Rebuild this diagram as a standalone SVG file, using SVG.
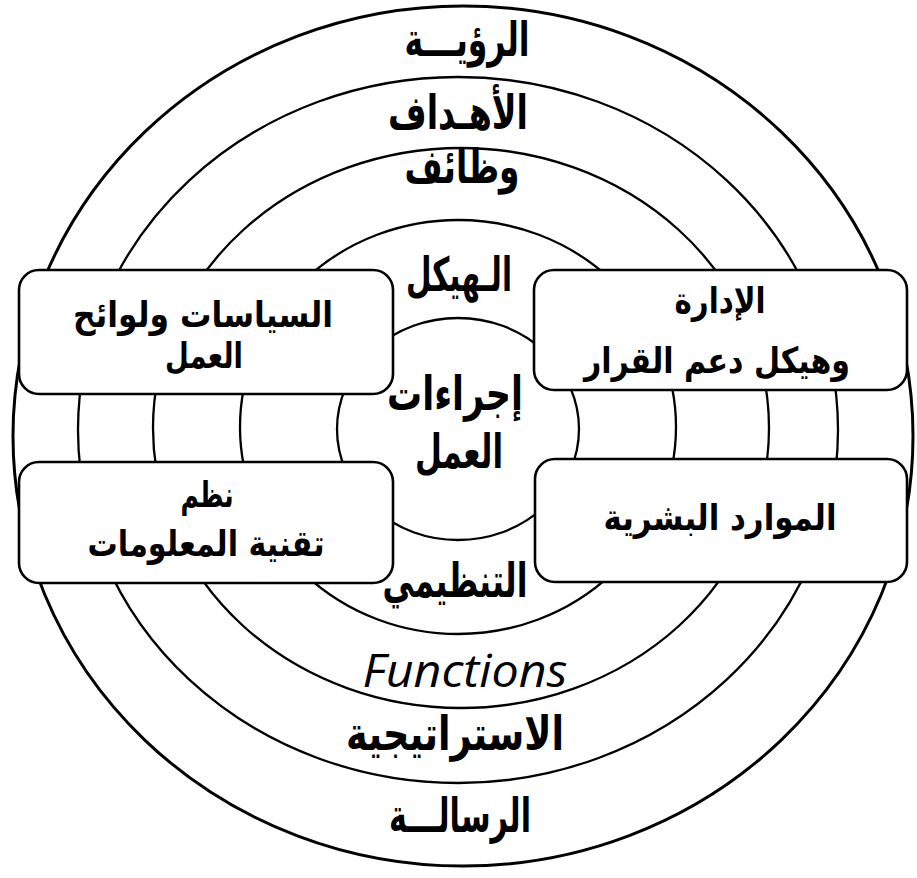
<svg xmlns="http://www.w3.org/2000/svg" width="917" height="878" viewBox="0 0 917 878">
<style>
.ring{fill:none;stroke:#000;stroke-width:2.3}
.outer{stroke-width:3}
.box{fill:#fff;stroke:#000;stroke-width:2.6}
.ar{font-family:"DejaVu Sans","Noto Sans",sans-serif;font-weight:bold;fill:#000;text-anchor:middle}
.lbl{font-size:47px}
.bt{font-size:36px}
.en{font-family:"Open Sans","DejaVu Sans",sans-serif;font-style:italic;font-size:46px;fill:#000;text-anchor:middle}
</style>
<rect width="917" height="878" fill="#fff"/>
<g id="rings">
<ellipse class="ring outer" cx="463" cy="436" rx="450" ry="430"/>
<ellipse class="ring" cx="458" cy="430" rx="380" ry="353"/>
<ellipse class="ring" cx="461" cy="428" rx="308" ry="280"/>
<ellipse class="ring" cx="458" cy="427" rx="218" ry="207"/>
<ellipse class="ring" cx="458" cy="429" rx="121" ry="111"/>
</g>
<g id="ring-labels">
<text class="ar lbl" x="467" y="56" textLength="125" lengthAdjust="spacingAndGlyphs">الرؤيـــة</text>
<text class="ar lbl" x="458" y="129" textLength="140" lengthAdjust="spacingAndGlyphs">الأهـداف</text>
<text class="ar lbl" x="462" y="183" textLength="115" lengthAdjust="spacingAndGlyphs">وظائف</text>
<text class="ar lbl" x="459" y="291" textLength="106" lengthAdjust="spacingAndGlyphs">الـهيكل</text>
<text class="ar lbl" x="455" y="410" textLength="136" lengthAdjust="spacingAndGlyphs">إجراءات</text>
<text class="ar lbl" x="459" y="468" textLength="88" lengthAdjust="spacingAndGlyphs">العمل</text>
<text class="ar lbl" x="455" y="597" textLength="145" lengthAdjust="spacingAndGlyphs">التنظيمي</text>
<text class="en" x="465" y="687" textLength="205" lengthAdjust="spacingAndGlyphs">Functions</text>
<text class="ar lbl" x="455" y="750" textLength="218" lengthAdjust="spacingAndGlyphs">الاستراتيجية</text>
<text class="ar lbl" x="460" y="832" textLength="142" lengthAdjust="spacingAndGlyphs">الرسالـــة</text>
</g>
<g id="box-policies">
<rect class="box" x="19" y="270" width="374" height="124" rx="20"/>
<text class="ar bt" x="203" y="327" textLength="260" lengthAdjust="spacingAndGlyphs">السياسات ولوائح</text>
<text class="ar bt" x="204" y="368" textLength="78" lengthAdjust="spacingAndGlyphs">العمل</text>
</g>
<g id="box-management">
<rect class="box" x="534" y="270" width="373" height="120" rx="20"/>
<text class="ar bt" x="720" y="313" textLength="91" lengthAdjust="spacingAndGlyphs">الإدارة</text>
<text class="ar bt" x="717" y="373" textLength="266" lengthAdjust="spacingAndGlyphs">وهيكل دعم القرار</text>
</g>
<g id="box-it">
<rect class="box" x="19" y="462" width="374" height="121" rx="20"/>
<text class="ar bt" x="207" y="507" textLength="53" lengthAdjust="spacingAndGlyphs">نظم</text>
<text class="ar bt" x="206" y="556" textLength="237" lengthAdjust="spacingAndGlyphs">تقنية المعلومات</text>
</g>
<g id="box-hr">
<rect class="box" x="535" y="459" width="372" height="123" rx="20"/>
<text class="ar bt" x="720" y="530" textLength="233" lengthAdjust="spacingAndGlyphs">الموارد البشرية</text>
</g>
<g id="connectors"/>
</svg>
